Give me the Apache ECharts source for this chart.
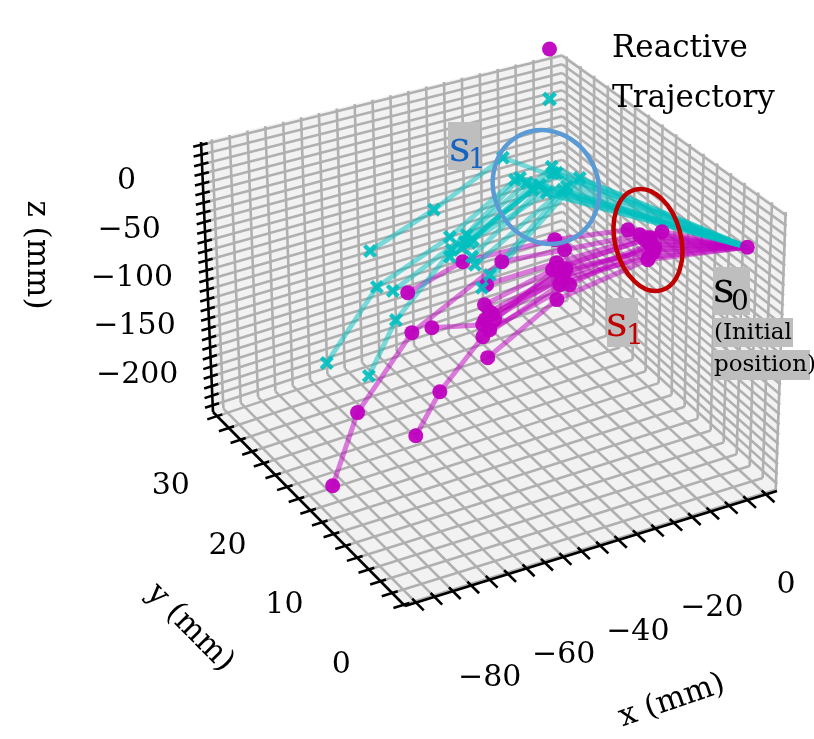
<!DOCTYPE html>
<html>
<head>
<meta charset="utf-8">
<script src="https://cdn.jsdelivr.net/npm/echarts@6/dist/echarts.min.js"></script>
<style>
  html, body { margin: 0; padding: 0; background: #fff; }
  #main { width: 814px; height: 739px; }
</style>
</head>
<body>
<div id="main"></div>
<script>
// axis limits of the 3d box (mm)
var xLim = [-93, 8];
var yLim = [-0.2, 32.7];
var zLim = [-227, 53];

// tick labels
var xTickLabels = [-80, -60, -40, -20, 0];
var yTickLabels = [0, 10, 20, 30];
var zTickLabels = [-200, -150, -100, -50, 0];

// initial position s0 shared by every path
var start = [0.7, 1.4, 18];

// reactive paths (x, y, z) after s0
var reactivePaths = [
  [[-16.3, 9.7, 10.5], [-24.3, 16.3, -27.0], [-49.5, 16.3, -23.6], [-64.6, 16.3, -39.8]],
  [[-13.1, 9.7, 2.0], [-21.6, 16.3, -40.5], [-38.8, 16.3, -34.7], [-63.6, 16.3, -81.6], [-78.9, 16.3, -146.2], [-86.2, 16.3, -211.7]],
  [[-10.3, 9.7, -11.1], [-22.4, 16.3, -68.9], [-44.1, 16.3, -94.4], [-58.1, 16.3, -82.4]],
  [[-10.8, 9.7, -26.2], [-23.7, 16.3, -90.6], [-42.8, 16.3, -130.0]],
  [[-9.5, 9.7, -20.5], [-22.9, 16.3, -75.8], [-44.1, 16.3, -106.9], [-56.1, 16.3, -150.3], [-62.9, 16.3, -187.6]],
  [[-7.1, 9.7, -1.0], [-23.8, 16.3, -51.7], [-43.0, 16.3, -54.2]],
  [[-11.7, 9.7, -4.5], [-24.9, 16.3, -58.0], [-43.6, 16.3, -74.3]],
  [[-9.0, 9.7, -15.8], [-21.6, 16.3, -63.6], [-42.2, 16.3, -83.1]],
  [[-10.4, 9.7, -3.9], [-23.5, 16.3, -57.4], [-40.8, 16.3, -92.9]],
  [[-9.8, 9.7, -10.7], [-20.2, 16.3, -78.9], [-42.2, 16.3, -101.7]],
  [[-10.6, 9.7, -24.0], [-22.0, 16.3, -70.5], [-41.5, 16.3, -86.0]],
  [[-9.3, 9.7, -18.0], [-21.2, 16.3, -61.0], [-43.5, 16.3, -90.0]]
];

// planned trajectory paths (x, y, z) after s0
var trajectoryPaths = [
  [[-23.8, 24.5, 14.4], [-43.0, 24.5, -21.5], [-60.9, 24.5, -46.4]],
  [[-20.5, 24.5, -13.1], [-38.7, 24.5, -55.1], [-59.2, 24.5, -85.9], [-73.7, 24.5, -149.1]],
  [[-17.2, 24.5, -19.8], [-34.0, 24.5, -58.0], [-54.8, 24.5, -94.8]],
  [[-19.1, 24.5, -12.3], [-38.2, 24.5, -69.4], [-54.1, 24.5, -126.2], [-62.0, 24.5, -175.9]],
  [[-10.3, 24.5, -9.6], [-33.2, 24.5, -67.4]],
  [[-10.0, 24.5, -16.5], [-38.8, 24.5, -76.2]],
  [[-8.9, 24.5, -17.6], [-32.6, 24.5, -83.0]],
  [[-7.2, 24.5, -38.1], [-31.8, 24.5, -92.4]],
  [[-6.1, 24.5, -35.9], [-27.7, 24.5, -107.9]],
  [[-2.5, 24.5, -30.0], [-29.9, 24.5, -119.3]],
  [[-11.7, 24.5, -36.6], [-32.3, 24.5, -65.2]],
  [[-15.6, 24.5, -29.1], [-35.4, 24.5, -70.3]],
  [[-13.6, 24.5, -25.8], [-34.6, 24.5, -64.7]]
];

// screen position of the 8 box corners, index = u + 2v + 4w
var boxCorners = [[405, 606], [777, 491], [213, 412], [563, 296],
                  [403, 316], [787, 213], [201, 142], [562, 53]];

function toScreen(u, v, w) {
  var out = [0, 0];
  for (var i = 0; i < 8; i++) {
    var k = ((i & 1) ? u : 1 - u) * ((i & 2) ? v : 1 - v) * ((i & 4) ? w : 1 - w);
    out[0] += k * boxCorners[i][0];
    out[1] += k * boxCorners[i][1];
  }
  return out;
}
function nu(x) { return (x - xLim[0]) / (xLim[1] - xLim[0]); }
function nv(y) { return (y - yLim[0]) / (yLim[1] - yLim[0]); }
function nw(z) { return (z - zLim[0]) / (zLim[1] - zLim[0]); }
function project(p) { return toScreen(nu(p[0]), nv(p[1]), nw(p[2])); }

function steps(a, b, s) {
  var r = [];
  for (var t = a; t <= b + 1e-9; t += s) r.push(t);
  return r;
}
var xGrid = steps(-90, 5, 5), yGrid = steps(0, 32, 2), zGrid = steps(-220, 50, 10);

// panes + grid
var panes = [
  [[0, 0, 0], [1, 0, 0], [1, 1, 0], [0, 1, 0]],
  [[0, 1, 0], [1, 1, 0], [1, 1, 1], [0, 1, 1]],
  [[1, 0, 0], [1, 1, 0], [1, 1, 1], [1, 0, 1]]
];
var gridSegs = [];
function seg(a, b) { gridSegs.push({ coords: [toScreen(a[0], a[1], a[2]), toScreen(b[0], b[1], b[2])] }); }
xGrid.forEach(function (x) { var u = nu(x); seg([u, 0, 0], [u, 1, 0]); seg([u, 1, 0], [u, 1, 1]); });
yGrid.forEach(function (y) { var v = nv(y); seg([0, v, 0], [1, v, 0]); seg([1, v, 0], [1, v, 1]); });
zGrid.forEach(function (z) { var w = nw(z); seg([0, 1, w], [1, 1, w]); seg([1, 0, w], [1, 1, w]); });

// axis lines and ticks
var axisSegs = [];
function aseg(a, b) { axisSegs.push({ coords: [toScreen(a[0], a[1], a[2]), toScreen(b[0], b[1], b[2])] }); }
aseg([0, 0, 0], [1, 0, 0]);
aseg([0, 0, 0], [0, 1, 0]);
aseg([0, 1, 0], [0, 1, 1]);
xGrid.forEach(function (x) { var u = nu(x); aseg([u, -0.04, 0], [u, 0.02, 0]); });
yGrid.forEach(function (y) { var v = nv(y); aseg([-0.028, v, 0], [0.015, v, 0]); });
zGrid.forEach(function (z) { var w = nw(z); aseg([-0.022, 1, w], [0.018, 1, w]); });

// tick label positions
function minus(n) { return n < 0 ? '\u2212' + Math.abs(n) : String(n); }
var tickLabelData = [];
xTickLabels.forEach(function (x) { tickLabelData.push({ name: minus(x), value: toScreen(nu(x), -0.19, -0.17) }); });
yTickLabels.forEach(function (y) { tickLabelData.push({ name: minus(y), value: toScreen(-0.17, nv(y), -0.14) }); });
zTickLabels.forEach(function (z) { tickLabelData.push({ name: minus(z), value: toScreen(-0.138, 1.138, nw(z)) }); });

// paths
function pathLines(paths) {
  return paths.map(function (p) { return { coords: [start].concat(p).map(project) }; });
}
function pathPoints(paths) {
  var pts = [project(start)];
  paths.forEach(function (p) { p.forEach(function (q) { pts.push(project(q)); }); });
  return pts;
}

var MAGENTA = '#bf00bf', CYAN = '#00bfbf';
var FONT = 'DejaVu Serif';
var xIcon = 'path://M0,2.2L2.2,0L5,2.8L7.8,0L10,2.2L7.2,5L10,7.8L7.8,10L5,7.2L2.2,10L0,7.8L2.8,5Z';

var chart = echarts.init(document.getElementById('main'));
var option = {
  animation: false,
  grid: { left: 0, right: 0, top: 0, bottom: 0 },
  xAxis: { type: 'value', min: 0, max: 814, show: false },
  yAxis: { type: 'value', min: 0, max: 739, inverse: true, show: false },
  legend: {
    orient: 'vertical',
    left: 537,
    top: 27,
    itemWidth: 15,
    itemHeight: 15,
    itemGap: 16,
    data: [{ name: 'Reactive', icon: 'circle' }, { name: 'Trajectory', icon: xIcon }],
    textStyle: { fontFamily: FONT, fontSize: 31, color: '#000', lineHeight: 34, padding: [0, 0, 0, 50] }
  },
  series: [
    {
      type: 'custom',
      silent: true,
      data: [[0, 0], [1, 1], [2, 2]],
      renderItem: function (params, api) {
        var pts = panes[params.dataIndex].map(function (c) { return api.coord(toScreen(c[0], c[1], c[2])); });
        return { type: 'polygon', shape: { points: pts }, style: { fill: '#f2f2f2' } };
      }
    },
    {
      type: 'lines', coordinateSystem: 'cartesian2d', silent: true,
      data: gridSegs,
      lineStyle: { color: '#b0b0b0', width: 2.6, opacity: 1 }
    },
    {
      type: 'lines', coordinateSystem: 'cartesian2d', silent: true,
      data: axisSegs,
      lineStyle: { color: '#000', width: 2.6, opacity: 1 }
    },
    {
      type: 'lines', coordinateSystem: 'cartesian2d', polyline: true, silent: true,
      data: pathLines(reactivePaths),
      lineStyle: { color: MAGENTA, width: 5, opacity: 0.5 }
    },
    {
      name: 'Reactive', type: 'scatter', symbol: 'circle', symbolSize: 15,
      data: pathPoints(reactivePaths),
      itemStyle: { color: MAGENTA, opacity: 0.95 }
    },
    {
      type: 'lines', coordinateSystem: 'cartesian2d', polyline: true, silent: true,
      data: pathLines(trajectoryPaths),
      lineStyle: { color: CYAN, width: 5, opacity: 0.5 }
    },
    {
      name: 'Trajectory', type: 'scatter', symbol: xIcon, symbolSize: 14,
      data: pathPoints(trajectoryPaths).slice(1),
      itemStyle: { color: CYAN, opacity: 0.9 }
    },
    {
      type: 'custom', silent: true,
      data: tickLabelData,
      renderItem: function (params, api) {
        var p = api.coord([api.value(0), api.value(1)]);
        return {
          type: 'text', x: p[0], y: p[1],
          style: {
            text: tickLabelData[params.dataIndex].name, fill: '#000',
            fontFamily: FONT, fontSize: 30, align: 'center', verticalAlign: 'middle'
          }
        };
      }
    }
  ],
  graphic: [
    // axis titles
    { type: 'text', x: 672, y: 701, rotation: 0.33, z: 100,
      style: { text: 'x (mm)', fontFamily: FONT, fontSize: 31, fill: '#000', align: 'center', verticalAlign: 'middle' } },
    { type: 'text', x: 190, y: 628, rotation: -0.79, z: 100,
      style: { text: 'y (mm)', fontFamily: FONT, fontSize: 31, fill: '#000', align: 'center', verticalAlign: 'middle' } },
    { type: 'text', x: 36, y: 255, rotation: -Math.PI / 2, z: 100,
      style: { text: 'z (mm)', fontFamily: FONT, fontSize: 31, fill: '#000', align: 'center', verticalAlign: 'middle' } },
    // highlighted clusters
    { type: 'ellipse', x: 546, y: 187, rotation: 0.45, z: 100, shape: { cx: 0, cy: 0, rx: 52, ry: 58 },
      style: { fill: 'none', stroke: '#5b9bd5', lineWidth: 4.5 } },
    { type: 'ellipse', x: 648, y: 240, rotation: 0.25, z: 100, shape: { cx: 0, cy: 0, rx: 33, ry: 52 },
      style: { fill: 'none', stroke: '#c00000', lineWidth: 4.5 } },
    // s1 (planned)
    { type: 'rect', z: 100, shape: { x: 448, y: 122, width: 32, height: 48 }, style: { fill: '#bebebe' } },
    { type: 'text', z: 101, x: 449, y: 150, style: { text: 's', fontFamily: FONT, fontSize: 42, fill: '#1565c0', verticalAlign: 'middle' } },
    { type: 'text', z: 101, x: 468, y: 161, style: { text: '1', fontFamily: FONT, fontSize: 28, fill: '#1565c0', verticalAlign: 'middle' } },
    // s1 (reactive)
    { type: 'rect', z: 100, shape: { x: 607, y: 298, width: 31, height: 49 }, style: { fill: '#bebebe' } },
    { type: 'text', z: 101, x: 606, y: 325, style: { text: 's', fontFamily: FONT, fontSize: 42, fill: '#c00000', verticalAlign: 'middle' } },
    { type: 'text', z: 101, x: 626, y: 337, style: { text: '1', fontFamily: FONT, fontSize: 28, fill: '#c00000', verticalAlign: 'middle' } },
    // s0 (initial position)
    { type: 'rect', z: 100, shape: { x: 713, y: 267, width: 37, height: 48 }, style: { fill: '#bebebe' } },
    { type: 'text', z: 101, x: 713, y: 291, style: { text: 's', fontFamily: FONT, fontSize: 42, fill: '#000', verticalAlign: 'middle' } },
    { type: 'text', z: 101, x: 731, y: 303, style: { text: '0', fontFamily: FONT, fontSize: 28, fill: '#000', verticalAlign: 'middle' } },
    { type: 'rect', z: 100, shape: { x: 713, y: 318, width: 80, height: 29 }, style: { fill: '#bebebe' } },
    { type: 'text', z: 101, x: 714, y: 333, style: { text: '(Initial', fontFamily: FONT, fontSize: 23, fill: '#000', verticalAlign: 'middle' } },
    { type: 'rect', z: 100, shape: { x: 713, y: 350, width: 97, height: 30 }, style: { fill: '#bebebe' } },
    { type: 'text', z: 101, x: 714, y: 365, style: { text: 'position)', fontFamily: FONT, fontSize: 23, fill: '#000', verticalAlign: 'middle' } }
  ]
};
chart.setOption(option);
</script>
</body>
</html>
